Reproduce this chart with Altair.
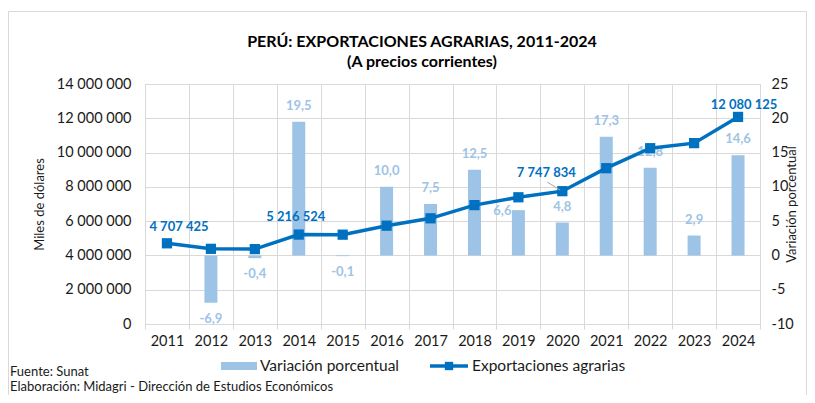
import altair as alt
import pandas as pd

# ---------------- data ----------------
years = ["2011", "2012", "2013", "2014", "2015", "2016", "2017",
         "2018", "2019", "2020", "2021", "2022", "2023", "2024"]
exports = [4707425, 4385000, 4368000, 5216524, 5211000, 5735000, 6165000,
           6935000, 7392000, 7747834, 9090000, 10255000, 10550000, 12080125]
variation = [None, -6.9, -0.4, 19.5, -0.1, 10.0, 7.5,
             12.5, 6.6, 4.8, 17.3, 12.8, 2.9, 14.6]
labelled_years = ["2011", "2014", "2020", "2024"]
left_ticks = [0, 2000000, 4000000, 6000000, 8000000, 10000000, 12000000, 14000000]
right_ticks = [-10, -5, 0, 5, 10, 15, 20, 25]

title_text = "PERÚ: EXPORTACIONES AGRARIAS, 2011-2024"
subtitle_text = "(A precios corrientes)"
left_title = "Miles de dólares"
right_title = "Variación porcentual"
legend_bar = "Variación porcentual"
legend_line = "Exportaciones agrarias"
source_text = "Fuente: Sunat"
credit_text = "Elaboración: Midagri - Dirección de Estudios Económicos"

df = pd.DataFrame({"year": years, "exports": exports, "variation": variation})
one = pd.DataFrame({"k": [0]})

# ---------------- style ----------------
FONT = "Lato"
BAR = "#9DC3E6"
LINE = "#0070C0"
GRID = "#D9D9D9"
TXT = "#1a1a1a"
W, H = 615, 240

x_axis = alt.Axis(labelAngle=0, labelFont=FONT, labelFontSize=14.5, labelColor=TXT,
                  labelPadding=5, tickBand="extent", tickColor=GRID, tickSize=5,
                  grid=True, gridColor=GRID, domain=False)
x_enc = alt.X("year:O", title=None, sort=years,
              scale=alt.Scale(paddingInner=0, paddingOuter=0), axis=x_axis)

yv_scale = alt.Scale(domain=[-10, 25], nice=False, zero=False)
ye_scale = alt.Scale(domain=[0, 14000000], nice=False)

yv_axis = alt.Axis(orient="right", values=right_ticks, format="d", grid=False,
                   domain=False, ticks=False, labelPadding=11, labelFont=FONT,
                   labelFontSize=14.5, labelColor=TXT, title=right_title,
                   titleAngle=270, titleFont=FONT, titleFontSize=13,
                   titleFontWeight="normal", titleColor=TXT, titlePadding=5)
ye_axis = alt.Axis(values=left_ticks, format=",d", grid=True, gridColor=GRID,
                   domain=False, ticks=False, labelPadding=14, labelFont=FONT,
                   labelFontSize=14.5, labelColor=TXT, title=left_title,
                   titleFont=FONT, titleFontSize=13, titleFontWeight="normal",
                   titleColor=TXT, titlePadding=10)

base = alt.Chart(df)

bars = base.transform_filter("isValid(datum.variation)").mark_bar(size=13, color=BAR).encode(
    x=x_enc,
    y=alt.Y("variation:Q", scale=yv_scale, axis=yv_axis),
    y2=alt.datum(0),
)

def bar_text(filt, dx, dy):
    return base.transform_filter(filt).mark_text(
        font=FONT, fontSize=13, fontWeight="bold", color=BAR, dx=dx, dy=dy,
        baseline="middle", align="center").encode(
        x=x_enc,
        y=alt.Y("variation:Q", scale=yv_scale, axis=yv_axis),
        text=alt.Text("variation:Q", format=".1f"),
    )

bar_labels = alt.layer(
    bar_text("isValid(datum.variation) && datum.variation >= 0 && datum.year != '2019'", 0, -16),
    bar_text("isValid(datum.variation) && datum.variation < 0", 0, 16),
    bar_text("datum.year == '2019'", -16, 1),
)

line = base.mark_line(color=LINE, strokeWidth=3.5).encode(
    x=x_enc,
    y=alt.Y("exports:Q", scale=ye_scale, axis=ye_axis),
)
points = base.mark_square(size=105, color=LINE, opacity=1).encode(
    x=x_enc,
    y=alt.Y("exports:Q", scale=ye_scale, axis=ye_axis),
)

label_nudge = {"2011": (12, -16), "2014": (-3, -18), "2020": (-16, -18), "2024": (6, -12)}

def line_text(yr):
    dx, dy = label_nudge[yr]
    return base.transform_filter(alt.datum.year == yr).mark_text(
        font=FONT, fontSize=13, fontWeight="bold", color=LINE, dx=dx, dy=dy,
        baseline="middle", align="center").encode(
        x=x_enc,
        y=alt.Y("exports:Q", scale=ye_scale, axis=ye_axis),
        text=alt.Text("exports:Q", format=",d"),
    )

line_labels = alt.layer(*[line_text(y) for y in labelled_years])

leader = base.transform_filter(alt.datum.year == "2020").mark_rule(
    color="#A6A6A6", strokeWidth=1, xOffset=-15, yOffset=-9, x2Offset=-2, y2Offset=-1).encode(
    x=x_enc,
    x2=alt.X2("year"),
    y=alt.Y("exports:Q", scale=ye_scale, axis=ye_axis),
    y2=alt.Y2("exports"),
)

# ---------------- decorations (non-data) ----------------
deco = alt.Chart(one)

frame = deco.mark_rect(fillOpacity=0, stroke=GRID, strokeWidth=1).encode(
    x=alt.value(-136.5), x2=alt.value(661.5), y=alt.value(-72.5), y2=alt.value(400))

title = deco.mark_text(font=FONT, fontSize=16, fontWeight="bold", color="#000",
                       align="center", baseline="middle").encode(
    x=alt.value(277), y=alt.value(-42), text=alt.value(title_text))
subtitle = deco.mark_text(font=FONT, fontSize=16, fontWeight="bold", color="#000",
                          align="center", baseline="middle").encode(
    x=alt.value(277), y=alt.value(-22), text=alt.value(subtitle_text))

leg_rect = deco.mark_rect(color=BAR).encode(
    x=alt.value(76), x2=alt.value(112), y=alt.value(278), y2=alt.value(286))
leg_t1 = deco.mark_text(font=FONT, fontSize=15.5, color=TXT, align="left", baseline="middle").encode(
    x=alt.value(115), y=alt.value(282), text=alt.value(legend_bar))
leg_line = deco.mark_rule(color=LINE, strokeWidth=3.5).encode(
    x=alt.value(285), x2=alt.value(323), y=alt.value(282))
leg_sq = deco.mark_square(color=LINE, size=70, opacity=1).encode(
    x=alt.value(304), y=alt.value(282))
leg_t2 = deco.mark_text(font=FONT, fontSize=15.5, color=TXT, align="left", baseline="middle").encode(
    x=alt.value(327), y=alt.value(282), text=alt.value(legend_line))

src = deco.mark_text(font=FONT, fontSize=13, color=TXT, align="left", baseline="middle").encode(
    x=alt.value(-135), y=alt.value(288), text=alt.value(source_text))
cred = deco.mark_text(font=FONT, fontSize=13, color=TXT, align="left", baseline="middle").encode(
    x=alt.value(-135), y=alt.value(303), text=alt.value(credit_text))

chart = alt.layer(
    frame,
    alt.layer(bars, bar_labels),
    alt.layer(line, points, line_labels, leader),
    title, subtitle, leg_rect, leg_t1, leg_line, leg_sq, leg_t2, src, cred,
).resolve_scale(y="independent").properties(
    width=W, height=H,
    autosize=alt.AutoSizeParams(type="none"),
    padding={"left": 137, "top": 76, "right": 47, "bottom": 71},
).configure_view(stroke=None).configure(
    locale={"number": {"decimal": ",", "thousands": " ", "grouping": [3],
                       "currency": ["", ""], "minus": "-"}}
)

chart.save("out.html", embed_options={"renderer": "svg", "actions": False})
